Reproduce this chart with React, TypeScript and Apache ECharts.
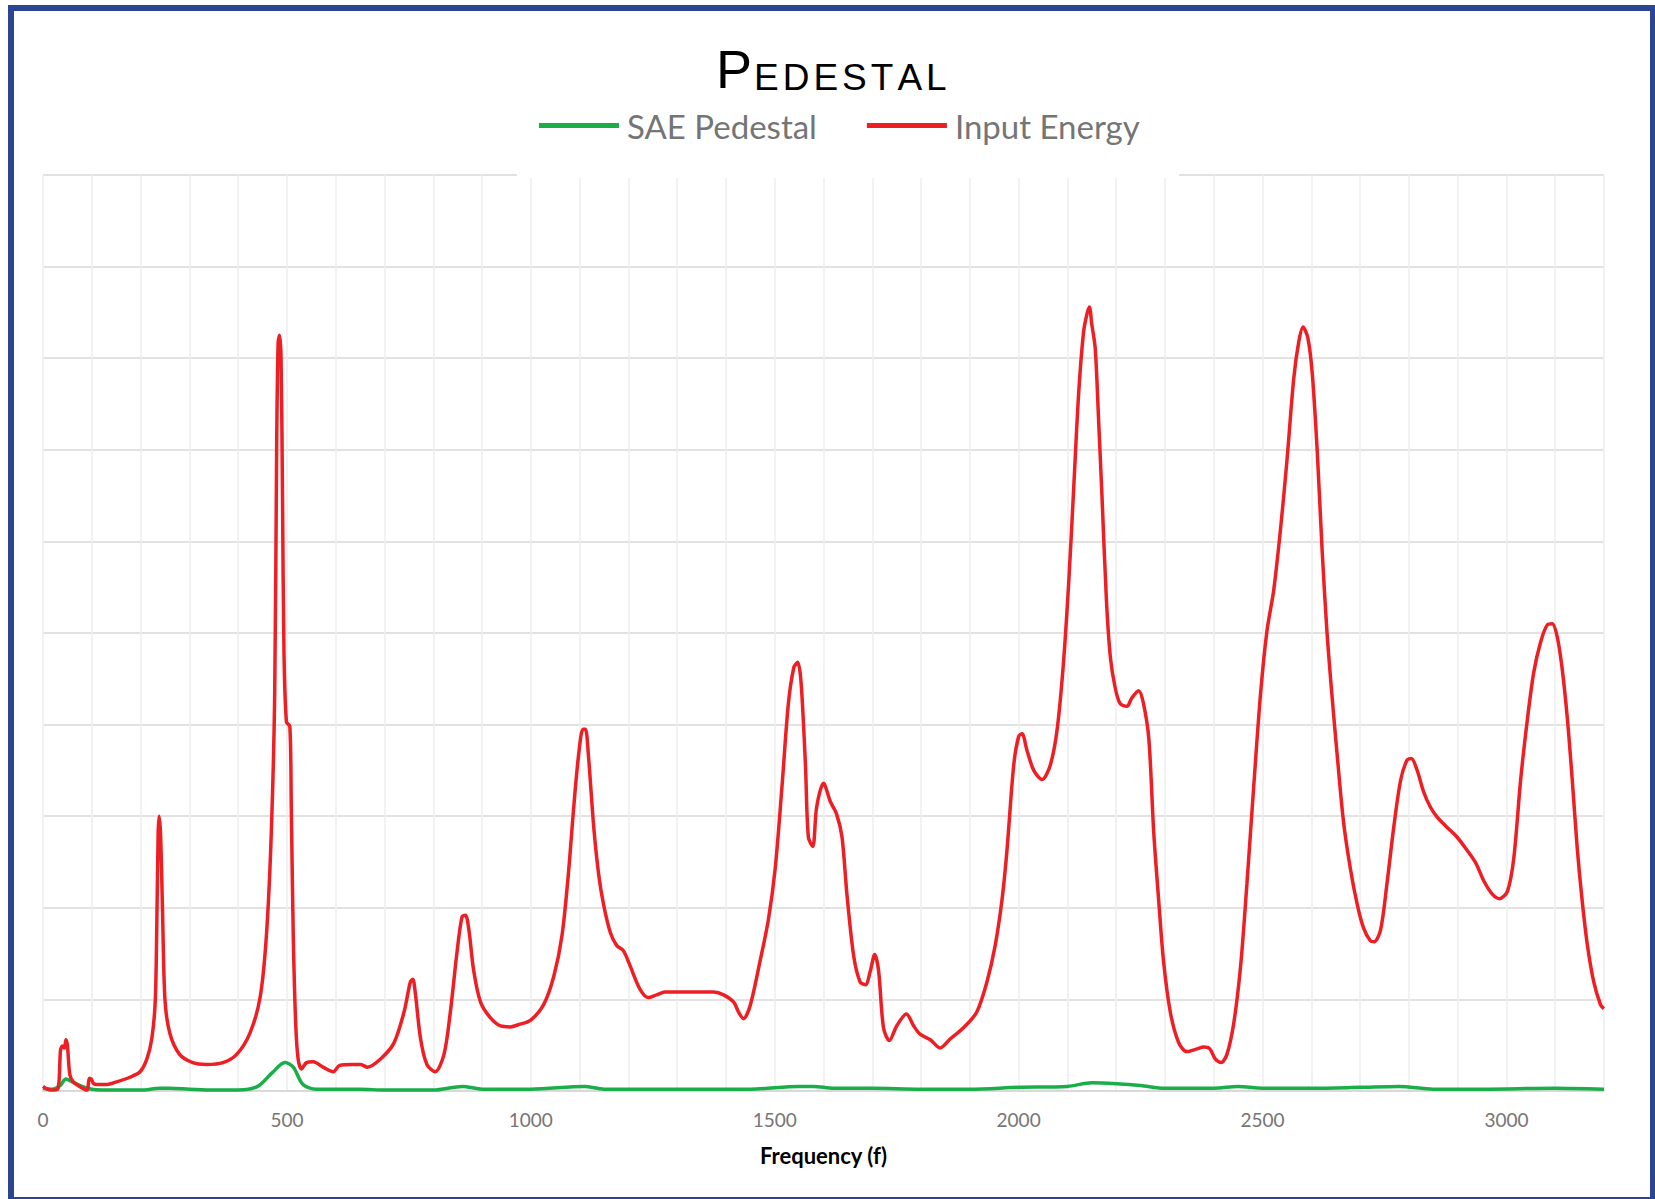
import React, { useEffect, useRef } from "react";
import * as echarts from "echarts";

const chartTitleFirst = "P";
const chartTitleRest = "EDESTAL";
const seriesNames = ["SAE Pedestal", "Input Energy"];
const xAxisTitle = "Frequency (f)";
const xLabelStep = 500;

const redFreq = [
  0, 15, 30, 36, 40, 44, 47, 50, 55, 62, 75, 90, 95, 99, 104, 117, 130, 151, 178, 199,
  213, 223, 230, 233, 236, 238, 241, 245, 250, 260, 280, 307, 335, 369, 397, 424, 445, 458, 468, 475,
  479, 482, 485, 488, 491, 494, 499, 506, 509, 513, 518, 523, 530, 540, 554, 574, 595, 608, 635, 651,
  665, 692, 719, 740, 753, 758, 763, 774, 787, 804, 822, 835, 849, 859, 866, 873, 883, 897, 917, 938,
  958, 978, 999, 1026, 1047, 1064, 1077, 1088, 1098, 1107, 1112, 1118, 1129, 1139, 1149, 1163, 1176, 1190, 1204, 1224,
  1241, 1258, 1275, 1327, 1375, 1395, 1416, 1426, 1436, 1450, 1470, 1487, 1501, 1515, 1528, 1539, 1547, 1554, 1563, 1569,
  1578, 1586, 1600, 1614, 1627, 1638, 1648, 1662, 1675, 1686, 1696, 1705, 1713, 1723, 1735, 1750, 1770, 1785, 1798, 1819,
  1839, 1860, 1887, 1914, 1935, 1952, 1966, 1976, 1990, 2000, 2007, 2017, 2031, 2048, 2065, 2079, 2092, 2103, 2113, 2123,
  2133, 2140, 2145, 2150, 2157, 2164, 2171, 2180, 2188, 2198, 2208, 2222, 2232, 2246, 2256, 2267, 2277, 2287, 2297, 2311,
  2328, 2345, 2366, 2379, 2392, 2403, 2415, 2427, 2441, 2455, 2468, 2482, 2496, 2509, 2523, 2537, 2550, 2564, 2574, 2583,
  2593, 2602, 2612, 2622, 2632, 2642, 2653, 2666, 2680, 2694, 2707, 2721, 2729, 2742, 2755, 2769, 2783, 2796, 2805, 2817,
  2830, 2844, 2858, 2878, 2899, 2919, 2937, 2954, 2971, 2986, 3002, 3015, 3029, 3043, 3056, 3070, 3084, 3094, 3104, 3114,
  3125, 3135, 3145, 3155, 3166, 3179, 3193, 3200,
];
const redValues = [
  0.05, 0.01, 0.02, 0.45, 0.49, 0.47, 0.56, 0.5, 0.18, 0.1, 0.05, 0.01, 0.14, 0.13, 0.08, 0.07, 0.07, 0.1, 0.15, 0.21,
  0.35, 0.57, 0.97, 1.7, 2.8, 3.0, 2.8, 1.98, 1.0, 0.63, 0.4, 0.31, 0.29, 0.31, 0.4, 0.63, 1.02, 1.7, 2.82, 4.34,
  7.04, 8.17, 8.25, 8.0, 6.48, 4.79, 4.03, 3.98, 3.1, 1.7, 0.74, 0.35, 0.24, 0.31, 0.32, 0.26, 0.21, 0.28, 0.29, 0.29,
  0.26, 0.35, 0.52, 0.86, 1.19, 1.22, 1.08, 0.57, 0.29, 0.21, 0.4, 0.86, 1.53, 1.9, 1.92, 1.76, 1.31, 0.97, 0.8, 0.71,
  0.7, 0.73, 0.77, 0.94, 1.25, 1.7, 2.37, 3.1, 3.67, 3.95, 3.95, 3.67, 2.88, 2.37, 2.04, 1.73, 1.59, 1.53, 1.36, 1.11,
  1.02, 1.05, 1.08, 1.08, 1.08, 1.05, 0.97, 0.86, 0.79, 0.94, 1.42, 1.87, 2.43, 3.33, 4.23, 4.62, 4.68, 4.46, 3.56, 2.77,
  2.67, 3.1, 3.36, 3.16, 3.02, 2.77, 2.15, 1.47, 1.19, 1.16, 1.31, 1.49, 1.31, 0.69, 0.55, 0.71, 0.84, 0.71, 0.62, 0.56,
  0.47, 0.57, 0.69, 0.86, 1.19, 1.59, 2.09, 2.62, 3.56, 3.87, 3.9, 3.72, 3.5, 3.4, 3.56, 3.95, 4.68, 5.58, 6.59, 7.61,
  8.28, 8.48, 8.56, 8.37, 8.11, 7.32, 6.48, 5.36, 4.74, 4.4, 4.23, 4.2, 4.29, 4.37, 4.23, 3.84, 2.82, 2.09, 1.42, 0.86,
  0.53, 0.43, 0.46, 0.48, 0.46, 0.35, 0.31, 0.4, 0.74, 1.36, 2.26, 3.33, 4.34, 5.02, 5.47, 6.14, 6.88, 7.78, 8.17, 8.34,
  8.22, 7.83, 7.0, 5.92, 5.02, 4.34, 3.67, 2.94, 2.43, 2.04, 1.78, 1.64, 1.63, 1.76, 2.26, 2.88, 3.39, 3.61, 3.63, 3.5,
  3.27, 3.1, 2.99, 2.88, 2.77, 2.63, 2.49, 2.29, 2.15, 2.1, 2.18, 2.54, 3.39, 4.06, 4.57, 4.9, 5.09, 5.1, 4.96, 4.62,
  4.06, 3.39, 2.66, 2.09, 1.59, 1.19, 0.94, 0.9,
];

const greenFreq = [
  0, 20, 35, 47, 60, 80, 100, 150, 200, 240, 260, 300, 350, 400, 440, 470, 496, 513, 533, 560,
  650, 700, 800, 860, 900, 1000, 1110, 1150, 1300, 1450, 1550, 1580, 1620, 1700, 1800, 1900, 2000, 2100, 2150, 2200,
  2250, 2300, 2400, 2450, 2500, 2600, 2700, 2780, 2850, 2950, 3100, 3200,
];
const greenValues = [
  0.03, 0.02, 0.06, 0.13, 0.1, 0.05, 0.02, 0.01, 0.01, 0.03, 0.03, 0.02, 0.01, 0.01, 0.05, 0.2, 0.31, 0.26, 0.07, 0.02,
  0.02, 0.01, 0.01, 0.05, 0.02, 0.02, 0.05, 0.02, 0.02, 0.02, 0.05, 0.05, 0.03, 0.03, 0.02, 0.02, 0.04, 0.05, 0.09, 0.08,
  0.06, 0.03, 0.03, 0.05, 0.03, 0.03, 0.04, 0.05, 0.02, 0.02, 0.03, 0.02,
];

const pairs = (xs: number[], ys: number[]) => xs.map((x, i) => [x, ys[i]]);

export default function App() {
  const ref = useRef<HTMLDivElement>(null);
  useEffect(() => {
    const chart = echarts.init(ref.current!, null, { renderer: "svg" });
    const gray = "#757575";
    const sans = "Lato";
    const titleText =
      `{p|${chartTitleFirst}}` + chartTitleRest.split("").map((c) => `{e|${c}}`).join("");
    chart.setOption({
      animation: false,
      backgroundColor: "#ffffff",
      title: {
        left: 711,
        top: 31,
        text: titleText,
        textStyle: {
          fontFamily: "Liberation Sans",
          fontWeight: "normal",
          rich: {
            p: { fontSize: 54, fontFamily: "Liberation Sans", color: "#000", lineHeight: 60, verticalAlign: "bottom" },
            e: { fontSize: 37, fontFamily: "Liberation Sans", color: "#000", lineHeight: 60, verticalAlign: "bottom", padding: [0, 2, 0, 2] },
          },
        },
      },
      legend: {
        left: 534,
        top: 104,
        z: 100,
        icon: "rect",
        itemWidth: 80,
        itemHeight: 5,
        itemGap: 50,
        data: seriesNames,
        textStyle: { color: gray, fontSize: 33, fontFamily: sans, padding: [0, 0, 0, 3] },
      },
      graphic: [
        { type: "rect", z: 50, shape: { x: 517, y: 150, width: 662, height: 28 }, style: { fill: "#ffffff" } },
        { type: "rect", z: 60, shape: { x: 11, y: 8, width: 1642, height: 1192 }, style: { fill: "none", stroke: "#2b4593", lineWidth: 6 } },
      ],
      grid: { left: 43, right: 51, top: 175, bottom: 108, containLabel: false },
      xAxis: {
        type: "value",
        min: 0,
        max: 3200,
        interval: 100,
        name: xAxisTitle,
        nameLocation: "middle",
        nameGap: 53,
        nameTextStyle: { color: "#000", fontWeight: "bold", fontSize: 22, fontFamily: sans },
        axisLine: { show: true, lineStyle: { color: "#d9d9d9", width: 2 } },
        axisTick: { show: false },
        axisLabel: {
          color: gray,
          fontSize: 19,
          fontFamily: sans,
          margin: 19,
          formatter: (v: number) => (v % xLabelStep === 0 ? String(v) : ""),
        },
        splitLine: { show: true, lineStyle: { color: "#eeeeee", width: 1.5 } },
      },
      yAxis: {
        type: "value",
        min: 0,
        max: 10,
        interval: 1,
        axisLine: { show: false },
        axisTick: { show: false },
        axisLabel: { show: false },
        splitLine: { show: true, lineStyle: { color: "#e2e2e2", width: 2 } },
      },
      series: [
        {
          name: seriesNames[0],
          type: "line",
          data: pairs(greenFreq, greenValues),
          showSymbol: false,
          smooth: 0.3,
          color: "#1aae4b",
          lineStyle: { color: "#1aae4b", width: 3.5 },
        },
        {
          name: seriesNames[1],
          type: "line",
          data: pairs(redFreq, redValues),
          showSymbol: false,
          smooth: 0.3,
          color: "#ee1f24",
          lineStyle: { color: "#ee1f24", width: 3.5 },
        },
      ],
    });
    return () => chart.dispose();
  }, []);
  return (
    <div
      ref={ref}
      style={{ position: "absolute", left: 0, top: 0, width: 1655, height: 1199, background: "#fff" }}
    />
  );
}
